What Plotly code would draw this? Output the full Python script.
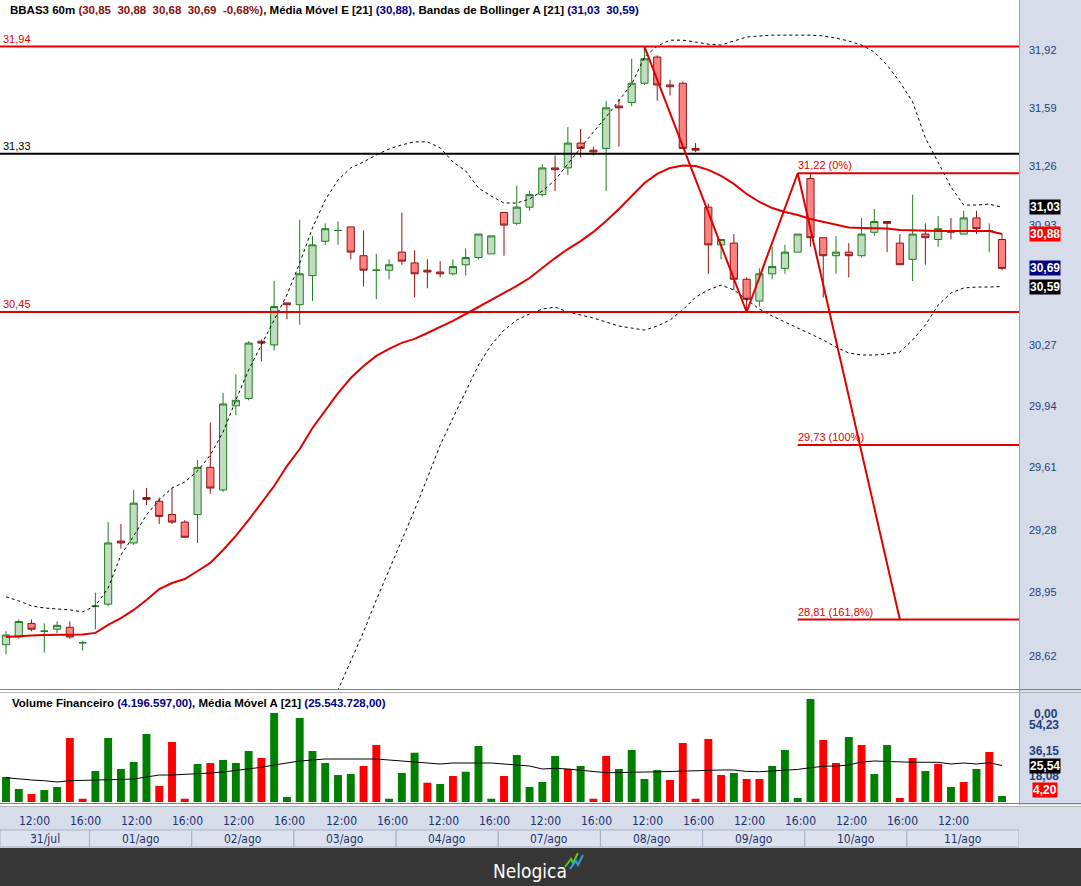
import math
import plotly.graph_objects as go

W, H = 1081, 886

# ---------------- data ----------------
days = ["31/jul", "01/ago", "02/ago", "03/ago", "04/ago", "07/ago", "08/ago", "09/ago", "10/ago", "11/ago"]
day_first_idx = [0, 7, 15, 23, 31, 39, 47, 55, 63, 71]
hour_ticks_idx = [2, 6, 10, 14, 18, 22, 26, 30, 34, 38, 42, 46, 50, 54, 58, 62, 66, 70, 74]
hour_ticks_txt = ["12:00", "16:00"] * 9 + ["12:00"]

open_ = [28.68, 28.72, 28.79, 28.75, 28.76, 28.77, 28.69, 28.88, 28.89, 29.22,
         29.21, 29.45, 29.43, 29.36, 29.32, 29.36, 29.61, 29.49, 29.94, 29.98,
         30.29, 30.27, 30.50, 30.49, 30.65, 30.84, 30.90, 30.92, 30.76, 30.68,
         30.68, 30.78, 30.72, 30.68, 30.67, 30.66, 30.71, 30.75, 30.77, 31.00,
         30.94, 31.03, 31.10, 31.25, 31.25, 31.39, 31.35, 31.36, 31.60, 31.62,
         31.73, 31.88, 31.72, 31.73, 31.36, 31.03, 30.82, 30.83, 30.63, 30.51,
         30.66, 30.69, 30.78, 31.19, 30.86, 30.76, 30.78, 30.76, 30.89, 30.95,
         30.83, 30.74, 30.88, 30.85, 30.90, 30.88, 30.97, 30.90, 30.85]
high_ = [28.75, 28.81, 28.81, 28.79, 28.80, 28.80, 28.70, 28.95, 29.32, 29.31,
         29.49, 29.50, 29.45, 29.50, 29.33, 29.65, 29.85, 30.01, 30.11, 30.29,
         30.30, 30.62, 30.50, 30.96, 30.87, 30.94, 30.95, 30.92, 30.90, 30.77,
         30.74, 31.00, 30.79, 30.74, 30.73, 30.74, 30.80, 30.88, 30.87, 31.00,
         31.15, 31.12, 31.27, 31.32, 31.48, 31.47, 31.37, 31.63, 31.64, 31.87,
         31.94, 31.89, 31.75, 31.74, 31.39, 31.05, 30.85, 30.88, 30.64, 30.69,
         30.81, 30.82, 30.88, 31.22, 30.86, 30.87, 30.83, 30.97, 31.02, 30.95,
         30.88, 31.10, 30.94, 30.98, 30.97, 31.01, 31.01, 30.94, 30.88]
low_ = [28.63, 28.71, 28.75, 28.64, 28.74, 28.71, 28.65, 28.76, 28.88, 29.18,
        29.20, 29.41, 29.31, 29.31, 29.24, 29.21, 29.47, 29.48, 29.89, 29.97,
        30.18, 30.24, 30.41, 30.38, 30.51, 30.82, 30.82, 30.74, 30.59, 30.52,
        30.63, 30.71, 30.53, 30.58, 30.64, 30.65, 30.65, 30.74, 30.77, 30.76,
        30.93, 31.01, 31.09, 31.12, 31.21, 31.31, 31.32, 31.12, 31.37, 31.60,
        31.72, 31.63, 31.66, 31.36, 31.34, 30.66, 30.74, 30.57, 30.46, 30.48,
        30.63, 30.66, 30.78, 30.81, 30.53, 30.66, 30.64, 30.75, 30.87, 30.78,
        30.71, 30.62, 30.71, 30.81, 30.85, 30.88, 30.88, 30.78, 30.68]
close_ = [28.73, 28.80, 28.76, 28.75, 28.78, 28.72, 28.69, 28.88, 29.21, 29.21,
          29.42, 29.44, 29.35, 29.32, 29.24, 29.61, 29.50, 29.95, 29.97, 30.28,
          30.28, 30.48, 30.49, 30.66, 30.82, 30.91, 30.90, 30.78, 30.68, 30.68,
          30.71, 30.73, 30.66, 30.67, 30.66, 30.70, 30.75, 30.88, 30.87, 30.93,
          31.03, 31.10, 31.25, 31.24, 31.39, 31.36, 31.34, 31.59, 31.59, 31.73,
          31.87, 31.72, 31.71, 31.36, 31.35, 30.82, 30.85, 30.63, 30.52, 30.66,
          30.70, 30.78, 30.88, 30.86, 30.76, 30.78, 30.76, 30.88, 30.95, 30.94,
          30.71, 30.88, 30.86, 30.91, 30.89, 30.97, 30.91, 30.90, 30.69]

ema21 = [28.72, 28.725, 28.728, 28.73, 28.73, 28.733, 28.733, 28.741, 28.782, 28.818,
         28.86, 28.912, 28.969, 29.00, 29.021, 29.063, 29.105, 29.173, 29.247, 29.331,
         29.421, 29.511, 29.617, 29.708, 29.821, 29.917, 30.009, 30.09, 30.155, 30.21,
         30.248, 30.281, 30.303, 30.335, 30.368, 30.401, 30.439, 30.477, 30.516, 30.554,
         30.593, 30.637, 30.692, 30.747, 30.797, 30.841, 30.892, 30.953, 31.02, 31.092,
         31.165, 31.216, 31.25, 31.264, 31.261, 31.239, 31.205, 31.16, 31.104, 31.059,
         31.025, 31.003, 30.986, 30.964, 30.947, 30.93, 30.917, 30.914, 30.914, 30.911,
         30.903, 30.90, 30.897, 30.897, 30.897, 30.897, 30.897, 30.897, 30.88]

bb_upper = [28.928, 28.907, 28.881, 28.87, 28.865, 28.86, 28.85, 28.881, 28.974, 29.147,
            29.247, 29.358, 29.437, 29.501, 29.532, 29.591, 29.676, 29.799, 29.971, 30.134,
            30.27, 30.406, 30.543, 30.719, 30.914, 31.07, 31.182, 31.25, 31.284, 31.323,
            31.357, 31.38, 31.397, 31.397, 31.363, 31.284, 31.233, 31.137, 31.092, 31.053,
            31.053, 31.076, 31.12, 31.182, 31.272, 31.368, 31.453, 31.538, 31.628, 31.725,
            31.88, 31.943, 31.977, 31.977, 31.966, 31.954, 31.949, 31.972, 31.995, 32.001,
            32.006, 32.006, 32.006, 32.006, 32.001, 31.989, 31.972, 31.949, 31.909, 31.834,
            31.737, 31.623, 31.419, 31.284, 31.143, 31.042, 31.042, 31.047, 31.03]

bb_lower = [None] * 24 + [
            28.067, 28.267, 28.447, 28.601, 28.746, 28.912,
            29.068, 29.226, 29.384, 29.554, 29.729, 29.874, 30.014, 30.161, 30.27, 30.351,
            30.406, 30.439, 30.466, 30.477, 30.45, 30.433, 30.417, 30.395, 30.373, 30.362,
            30.351, 30.373, 30.406, 30.461, 30.532, 30.571, 30.598, 30.571, 30.516, 30.466,
            30.428, 30.395, 30.362, 30.329, 30.297, 30.258, 30.226, 30.215, 30.215, 30.221,
            30.231, 30.297, 30.379, 30.488, 30.554, 30.582, 30.587, 30.587, 30.59]

# financial volume, in millions of R$
volume = [17.5, 9.1, 5.6, 8.4, 10.5, 44.8, 2.3, 21.7, 44.8, 23.1,
          28.0, 47.6, 11.2, 42.0, 2.3, 26.6, 27.3, 29.4, 27.3, 35.7,
          30.8, 62.3, 3.5, 58.8, 35.7, 27.3, 18.9, 19.6, 25.2, 39.9,
          2.3, 20.3, 34.5, 13.5, 12.6, 18.2, 21.2, 39.2, 2.3, 18.2,
          32.9, 10.5, 14.0, 32.2, 23.1, 25.2, 2.3, 32.2, 23.1, 36.4,
          16.1, 22.4, 15.4, 41.3, 2.3, 44.1, 18.9, 20.3, 16.1, 16.1,
          25.2, 36.4, 2.8, 72.1, 43.4, 27.3, 45.5, 39.9, 19.6, 39.9,
          2.8, 30.8, 21.7, 26.6, 10.5, 14.0, 23.1, 35.0, 4.20]
vol_dir = list("ggrggrrggggg" "rrrgrgggrg" "ggggggrrgg" "grgrgggrgg"
               "ggrgrrgggg" "rrrrrgrrgg" "ggrrgrggrr" "grgrgrgr")
vol_ma21 = [17.0, 16.1, 15.4, 14.9, 14.0, 14.9, 15.0, 15.4, 15.6, 15.8,
            16.1, 17.5, 18.9, 18.9, 19.2, 19.6, 20.3, 21.0, 22.0, 23.1,
            24.3, 25.9, 27.3, 28.7, 29.4, 30.1, 30.1, 30.1, 30.1, 30.1,
            29.4, 28.7, 28.0, 27.3, 26.6, 27.3, 27.3, 27.5, 27.3, 26.6,
            25.9, 25.2, 23.1, 23.6, 23.1, 22.4, 21.4, 20.5, 20.6, 21.0,
            21.0, 21.1, 21.4, 21.5, 21.7, 22.4, 22.4, 22.4, 21.4, 21.2,
            21.7, 22.4, 22.8, 24.0, 25.0, 25.2, 25.9, 28.0, 28.7, 28.4,
            28.0, 27.8, 27.8, 27.8, 26.6, 27.3, 26.6, 27.5, 25.54]
vol_last_exact = 4196597.00
vol_ma_last_exact = 25543728.00

price_ticks = [31.92, 31.59, 31.26, 30.93, 30.60, 30.27, 29.94, 29.61, 29.28, 28.95, 28.62]
vol_ticks = [54.23, 36.15, 18.08]

hline_levels = [31.94, 31.33, 30.45]
hline_colors = ["#e00000", "#000000", "#e00000"]
zig_x = [50, 58, 62, 70]
zig_y = [31.94, 30.45, 31.22, 28.81]
fib_levels = [31.22, 29.73, 28.81]
fib_pct = ["0%", "100%", "161,8%"]

# ---------------- helpers ----------------
N = len(close_)
idx = list(range(N))
XR = [-0.47, 79.33]
Y_LOG = [math.log10(28.447), math.log10(32.209)]


def fmt(v):
    return f"{v:.2f}".replace(".", ",")


def fmt_br(v):
    s = f"{v:,.2f}"
    return s.replace(",", "X").replace(".", ",").replace("X", ".")


def px(x):
    return x / W


def py(y):
    return 1 - y / H


UP_LINE, UP_FILL = "#1f7f1f", "#c2dcc2"
DN_LINE, DN_FILL = "#8f1515", "#ff8282"
BLUE_TXT = "#24427a"
STRIP = "#d6dcea"

fig = go.Figure()

# candles split by direction
up = [i for i in idx if close_[i] >= open_[i]]
dn = [i for i in idx if close_[i] < open_[i]]
for sel, lc, fc in ((up, UP_LINE, UP_FILL), (dn, DN_LINE, DN_FILL)):
    fig.add_trace(go.Candlestick(
        x=sel, open=[open_[i] for i in sel], high=[high_[i] for i in sel],
        low=[low_[i] for i in sel], close=[close_[i] for i in sel],
        increasing=dict(line=dict(color=lc, width=1), fillcolor=fc),
        decreasing=dict(line=dict(color=lc, width=1), fillcolor=fc),
        whiskerwidth=0, xaxis="x", yaxis="y", hoverinfo="skip"))

# Bollinger bands
for band in (bb_upper, bb_lower):
    fig.add_trace(go.Scatter(x=idx, y=band, mode="lines", xaxis="x", yaxis="y",
                             line=dict(color="black", width=1, dash="3px,3px"),
                             hoverinfo="skip", connectgaps=False))
# EMA 21
fig.add_trace(go.Scatter(x=idx, y=ema21, mode="lines", xaxis="x", yaxis="y",
                         line=dict(color="#e00000", width=2), hoverinfo="skip"))

# horizontal drawing lines
for lv, col in zip(hline_levels, hline_colors):
    fig.add_trace(go.Scatter(x=XR, y=[lv, lv], mode="lines", xaxis="x", yaxis="y",
                             line=dict(color=col, width=2), hoverinfo="skip"))
# fibonacci projection
for lv in fib_levels:
    fig.add_trace(go.Scatter(x=[zig_x[2], XR[1]], y=[lv, lv], mode="lines", xaxis="x", yaxis="y",
                             line=dict(color="#e00000", width=2), hoverinfo="skip"))
fig.add_trace(go.Scatter(x=zig_x, y=zig_y, mode="lines", xaxis="x", yaxis="y",
                         line=dict(color="#e00000", width=2), hoverinfo="skip"))

# volume
fig.add_trace(go.Bar(x=idx, y=volume, width=0.62, xaxis="x2", yaxis="y2",
                     marker=dict(color=["#008000" if d == "g" else "#ff0000" for d in vol_dir],
                                 line=dict(width=0)), hoverinfo="skip"))
fig.add_trace(go.Scatter(x=idx, y=vol_ma21, mode="lines", xaxis="x2", yaxis="y2",
                         line=dict(color="black", width=1), hoverinfo="skip"))

# ---------------- layout ----------------
shapes = []
# right axis strip
shapes.append(dict(type="rect", xref="paper", yref="paper", x0=px(1019), x1=1, y0=py(805), y1=1,
                   fillcolor=STRIP, line=dict(width=0), layer="below"))
shapes.append(dict(type="line", xref="paper", yref="paper", x0=px(1019.5), x1=px(1019.5), y0=py(805), y1=1,
                   line=dict(color="#9aa4bb", width=1)))
# panel separators
for yy, c in ((689.5, "#7f7f7f"), (692.5, "#b5b5b5"), (803.5, "#7f7f7f"), (806.5, "#b5b5b5")):
    shapes.append(dict(type="line", xref="paper", yref="paper", x0=0, x1=1, y0=py(yy), y1=py(yy),
                       line=dict(color=c, width=1)))
# time-axis strip
shapes.append(dict(type="rect", xref="paper", yref="paper", x0=0, x1=1, y0=py(848), y1=py(807),
                   fillcolor=STRIP, line=dict(width=0), layer="below"))
# footer
shapes.append(dict(type="rect", xref="paper", yref="paper", x0=0, x1=1, y0=0, y1=py(848),
                   fillcolor="#363636", line=dict(width=0)))
# date buttons
for k, d0 in enumerate(day_first_idx):
    xa = XR[0] if k == 0 else d0 - 0.45
    xb = XR[1] if k == len(day_first_idx) - 1 else day_first_idx[k + 1] - 0.45
    shapes.append(dict(type="rect", xref="x", yref="paper", x0=xa, x1=xb, y0=py(847), y1=py(830),
                       fillcolor="#dde2ee", line=dict(color="#a7b0c6", width=1)))
# logo strokes
shapes.append(dict(type="path", xref="paper", yref="paper",
                   path=f"M {px(565)} {py(867)} L {px(571)} {py(859)} L {px(573)} {py(863)} L {px(578)} {py(853)}",
                   line=dict(color="#58c234", width=2)))
shapes.append(dict(type="path", xref="paper", yref="paper",
                   path=f"M {px(570)} {py(869)} L {px(576)} {py(861)} L {px(578)} {py(865)} L {px(583)} {py(855)}",
                   line=dict(color="#2f9be0", width=2)))

ann = []
F = "Liberation Sans, Arial, sans-serif"
NARROW = "Liberation Sans Narrow, DejaVu Sans Condensed, Arial Narrow, sans-serif"
o, h, l, c = open_[-1], high_[-1], low_[-1], close_[-1]
chg = (c - close_[-2]) / close_[-2] * 100
sp = "&nbsp;&nbsp;"
title = (f"<b>BBAS3 60m <span style='color:#8b1010'>({fmt(o)}{sp}{fmt(h)}{sp}{fmt(l)}{sp}{fmt(c)}{sp}{fmt(chg)}%)</span>, "
         f"Média Móvel E [21] <span style='color:#000080'>({fmt(ema21[-1])})</span>, "
         f"Bandas de Bollinger A [21] <span style='color:#000080'>({fmt(bb_upper[-1])}{sp}{fmt(bb_lower[-1])})</span></b>")
ann.append(dict(text=title, xref="paper", yref="paper", x=px(8), y=py(10), xanchor="left", yanchor="middle",
                showarrow=False, font=dict(family=F, size=11.5, color="black")))
vtitle = (f"<b>Volume Financeiro <span style='color:#000080'>({fmt_br(vol_last_exact)})</span>, "
          f"Média Móvel A [21] <span style='color:#000080'>({fmt_br(vol_ma_last_exact)})</span></b>")
ann.append(dict(text=vtitle, xref="paper", yref="paper", x=px(10), y=py(703), xanchor="left", yanchor="middle",
                showarrow=False, font=dict(family=F, size=11.5, color="black")))

# drawing labels
for lv, col in zip(hline_levels, hline_colors):
    ann.append(dict(text=fmt(lv), xref="paper", yref="y", x=px(1), y=math.log10(lv), xanchor="left",
                    yanchor="bottom", yshift=0, showarrow=False, font=dict(family=F, size=11, color=col)))
for lv, pc in zip(fib_levels, fib_pct):
    ann.append(dict(text=f"{fmt(lv)} ({pc})", xref="x", yref="y", x=zig_x[2] - 0.1, y=math.log10(lv),
                    xanchor="left", yanchor="bottom", yshift=0, showarrow=False,
                    font=dict(family=F, size=11, color="#e00000")))

# price value boxes
for val, bg in ((bb_upper[-1], "#000000"), (ema21[-1], "#ff0000"), (close_[-1], "#000080"), (bb_lower[-1], "#000000")):
    ann.append(dict(text=f"<b>{fmt(val)}</b>", xref="paper", yref="y", x=px(1045), y=math.log10(val),
                    xanchor="center", yanchor="middle", showarrow=False, bgcolor=bg, borderpad=0,
                    font=dict(family=F, size=12, color="white")))
# volume axis extras
ann.append(dict(text="<b>0,00</b>", xref="paper", yref="paper", x=px(1046), y=py(714), xanchor="center",
                yanchor="middle", showarrow=False, font=dict(family=F, size=12, color=BLUE_TXT)))
ann.append(dict(text=f"<b>{fmt(vol_ma21[-1])}</b>", xref="paper", yref="y2", x=px(1045), y=vol_ma21[-1],
                xanchor="center", yanchor="middle", showarrow=False, bgcolor="#000000", borderpad=0,
                font=dict(family=F, size=12, color="white")))
ann.append(dict(text=f"<b>{fmt(volume[-1])}</b>", xref="paper", yref="y2", x=px(1045), y=volume[-1],
                xanchor="center", yanchor="middle", yshift=6, showarrow=False, bgcolor="#ff0000", borderpad=0,
                font=dict(family=F, size=12, color="white")))

# time axis labels
for i, t in zip(hour_ticks_idx, hour_ticks_txt):
    ann.append(dict(text=t, xref="x", yref="paper", x=i, y=py(821), xanchor="center", yanchor="middle",
                    xshift=3, showarrow=False, font=dict(family=NARROW, size=12, color="#1c3270")))
for k, (d, d0) in enumerate(zip(days, day_first_idx)):
    xa = XR[0] if k == 0 else d0 - 0.45
    xb = XR[1] if k == len(day_first_idx) - 1 else day_first_idx[k + 1] - 0.45
    ann.append(dict(text=d, xref="x", yref="paper", x=(xa + xb) / 2, y=py(839), xanchor="center",
                    yanchor="middle", showarrow=False, font=dict(family=NARROW, size=12, color="#1c3270")))
# footer brand
ann.append(dict(text="Nelogica", xref="paper", yref="paper", x=px(530), y=py(871), xanchor="center",
                yanchor="middle", showarrow=False, font=dict(family=NARROW, size=19, color="white")))

fig.update_layout(
    width=W, height=H, margin=dict(l=0, r=0, t=0, b=0),
    paper_bgcolor="white", plot_bgcolor="white", showlegend=False,
    boxgap=0.2, boxgroupgap=0.3,
    xaxis=dict(domain=[0, px(1019)], range=XR, showticklabels=False, showgrid=False, zeroline=False,
               showline=False, ticks="", rangeslider=dict(visible=False), anchor="y"),
    yaxis=dict(domain=[py(690), 1], type="log", range=Y_LOG, side="right", anchor="x",
               tickvals=price_ticks, ticktext=[fmt(v) for v in price_ticks], ticks="",
               ticklabelstandoff=9, showgrid=False, zeroline=False, showline=False,
               tickfont=dict(family=F, size=11, color=BLUE_TXT)),
    xaxis2=dict(domain=[0, px(1019)], range=XR, showticklabels=False, showgrid=False, zeroline=False,
                showline=False, ticks="", anchor="y2", rangeslider=dict(visible=False)),
    yaxis2=dict(domain=[py(803), py(693)], range=[-0.7, 76.3], side="right", anchor="x2",
                tickvals=vol_ticks, ticktext=[f"<b>{fmt(v)}</b>" for v in vol_ticks], ticks="",
                ticklabelstandoff=9, showgrid=False, zeroline=False, showline=False,
                tickfont=dict(family=F, size=12, color=BLUE_TXT)),
    shapes=shapes, annotations=ann,
)

fig.write_html("out.html", config={"displayModeBar": False},
               post_script="document.body.style.margin='0';document.body.style.overflow='hidden';")
